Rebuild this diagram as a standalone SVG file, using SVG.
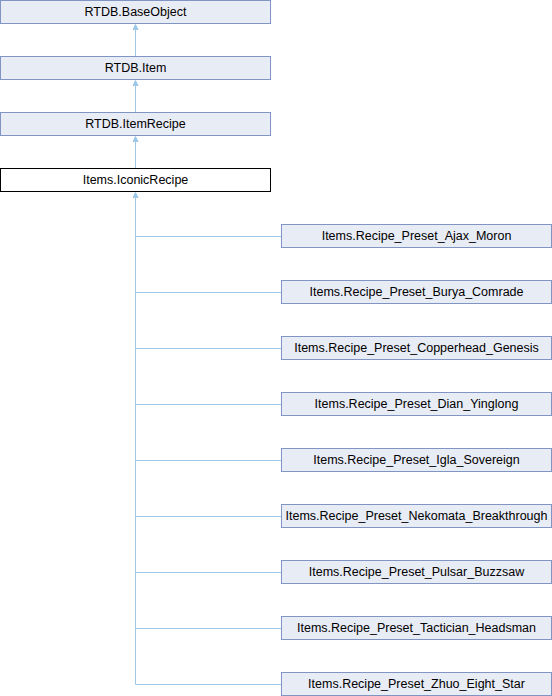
<svg xmlns="http://www.w3.org/2000/svg" width="552" height="696" viewBox="0 0 552 696">
<style>
  .box { fill: #e8ecf5; stroke: #8195c5; stroke-width: 1; }
  .cur { fill: #ffffff; stroke: #000000; stroke-width: 1; }
  .lbl { font-family: "Liberation Sans", Arial, sans-serif; font-size: 12.5px; fill: #000000; text-anchor: middle; }
  .edge { fill: none; stroke: #9dc8e6; stroke-width: 1; }
  .head { fill: #9dc8e6; stroke: #9dc8e6; stroke-width: 1; }
</style>
<rect width="552" height="696" fill="#ffffff"/>
<g id="connectors">
  <path class="edge" d="M135.5,29 V56"/>
  <path class="head" d="M135.5,24.5 L133,29.5 L138,29.5 Z"/>
  <path class="edge" d="M135.5,85 V112"/>
  <path class="head" d="M135.5,80.5 L133,85.5 L138,85.5 Z"/>
  <path class="edge" d="M135.5,141 V168"/>
  <path class="head" d="M135.5,136.5 L133,141.5 L138,141.5 Z"/>
  <path class="edge" d="M135.5,197 V684.5"/>
  <path class="head" d="M135.5,192.5 L133,197.5 L138,197.5 Z"/>
  <path class="edge" d="M135.5,236.5 H281"/>
  <path class="edge" d="M135.5,292.5 H281"/>
  <path class="edge" d="M135.5,348.5 H281"/>
  <path class="edge" d="M135.5,404.5 H281"/>
  <path class="edge" d="M135.5,460.5 H281"/>
  <path class="edge" d="M135.5,516.5 H281"/>
  <path class="edge" d="M135.5,572.5 H281"/>
  <path class="edge" d="M135.5,628.5 H281"/>
  <path class="edge" d="M135.5,684.5 H281"/>
</g>
<g id="RTDB.BaseObject"><rect class="box" x="0.5" y="0.5" width="270" height="23"/><text class="lbl" x="135.5" y="16">RTDB.BaseObject</text></g>
<g id="RTDB.Item"><rect class="box" x="0.5" y="56.5" width="270" height="23"/><text class="lbl" x="135.5" y="72">RTDB.Item</text></g>
<g id="RTDB.ItemRecipe"><rect class="box" x="0.5" y="112.5" width="270" height="23"/><text class="lbl" x="135.5" y="128">RTDB.ItemRecipe</text></g>
<g id="Items.IconicRecipe"><rect class="cur" x="0.5" y="168.5" width="270" height="23"/><text class="lbl" x="135.5" y="184">Items.IconicRecipe</text></g>
<g id="Ajax_Moron"><rect class="box" x="281.5" y="224.5" width="270" height="23"/><text class="lbl" x="416.5" y="240">Items.Recipe_Preset_Ajax_Moron</text></g>
<g id="Burya_Comrade"><rect class="box" x="281.5" y="280.5" width="270" height="23"/><text class="lbl" x="416.5" y="296">Items.Recipe_Preset_Burya_Comrade</text></g>
<g id="Copperhead_Genesis"><rect class="box" x="281.5" y="336.5" width="270" height="23"/><text class="lbl" x="416.5" y="352">Items.Recipe_Preset_Copperhead_Genesis</text></g>
<g id="Dian_Yinglong"><rect class="box" x="281.5" y="392.5" width="270" height="23"/><text class="lbl" x="416.5" y="408">Items.Recipe_Preset_Dian_Yinglong</text></g>
<g id="Igla_Sovereign"><rect class="box" x="281.5" y="448.5" width="270" height="23"/><text class="lbl" x="416.5" y="464">Items.Recipe_Preset_Igla_Sovereign</text></g>
<g id="Nekomata_Breakthrough"><rect class="box" x="281.5" y="504.5" width="270" height="23"/><text class="lbl" x="416.5" y="520">Items.Recipe_Preset_Nekomata_Breakthrough</text></g>
<g id="Pulsar_Buzzsaw"><rect class="box" x="281.5" y="560.5" width="270" height="23"/><text class="lbl" x="416.5" y="576">Items.Recipe_Preset_Pulsar_Buzzsaw</text></g>
<g id="Tactician_Headsman"><rect class="box" x="281.5" y="616.5" width="270" height="23"/><text class="lbl" x="416.5" y="632">Items.Recipe_Preset_Tactician_Headsman</text></g>
<g id="Zhuo_Eight_Star"><rect class="box" x="281.5" y="672.5" width="270" height="23"/><text class="lbl" x="416.5" y="688">Items.Recipe_Preset_Zhuo_Eight_Star</text></g>
</svg>
